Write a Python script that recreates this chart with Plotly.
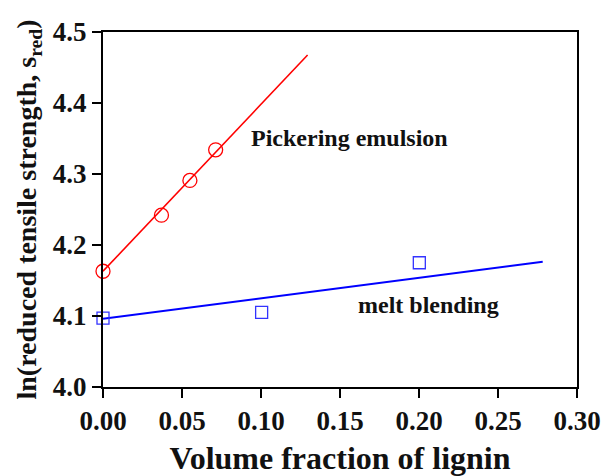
import plotly.graph_objects as go

# Pickering emulsion data
pe_x = [0.0, 0.037, 0.055, 0.0713]
pe_y = [4.163, 4.242, 4.291, 4.334]
pe_fit_x = [0.0, 0.1295]
pe_fit_y = [4.163, 4.4676]

# Melt blending data
mb_x = [0.0, 0.1004, 0.2002]
mb_y = [4.097, 4.105, 4.175]
mb_fit_x = [0.0, 0.2783]
mb_fit_y = [4.096, 4.1765]

x_ticks = [0.00, 0.05, 0.10, 0.15, 0.20, 0.25, 0.30]
y_ticks = [4.0, 4.1, 4.2, 4.3, 4.4, 4.5]

FONT = "Liberation Serif"

fig = go.Figure()
fig.add_trace(go.Scatter(x=pe_fit_x, y=pe_fit_y, mode="lines",
                         line=dict(color="#ff0000", width=1.6), showlegend=False))
fig.add_trace(go.Scatter(x=pe_x, y=pe_y, mode="markers",
                         marker=dict(symbol="circle-open", size=14, color="#ff0000",
                                     line=dict(width=1.3, color="#ff0000")),
                         showlegend=False, cliponaxis=False))
fig.add_trace(go.Scatter(x=mb_fit_x, y=mb_fit_y, mode="lines",
                         line=dict(color="#0000ff", width=2), showlegend=False))
fig.add_trace(go.Scatter(x=mb_x, y=mb_y, mode="markers",
                         marker=dict(symbol="square-open", size=12, color="#3333ff",
                                     line=dict(width=1.3, color="#3333ff")),
                         showlegend=False, cliponaxis=False))

fig.add_annotation(x=0.1563, y=4.351, text="Pickering emulsion", showarrow=False,
                   font=dict(family=FONT, size=24, color="#111", weight="bold"))
fig.add_annotation(x=0.2057, y=4.1155, text="melt blending", showarrow=False,
                   font=dict(family=FONT, size=24, color="#111", weight="bold"))

axis_common = dict(showgrid=False, zeroline=False, showline=True, linecolor="black",
                   linewidth=2, mirror=True, ticks="outside", ticklen=9, tickwidth=2,
                   tickcolor="black", automargin=False, ticklabeloverflow="allow",
                   tickfont=dict(family=FONT, size=27, color="#111", weight="bold"))

fig.update_xaxes(range=[0, 0.30], tickvals=x_ticks,
                 ticktext=[f"{v:.2f}" for v in x_ticks],
                 title=dict(text="Volume fraction of lignin", standoff=18,
                            font=dict(family=FONT, size=32, color="#111", weight="bold")),
                 **axis_common)
fig.update_yaxes(range=[4.0, 4.5], tickvals=y_ticks,
                 ticktext=[f"{v:.1f}" for v in y_ticks],
                 title=dict(text="ln(reduced tensile strength, s<sub>red</sub>)", standoff=8,
                            font=dict(family=FONT, size=28, color="#111", weight="bold")),
                 **axis_common)

fig.update_layout(width=602, height=476, margin=dict(l=103, r=25, t=32, b=89),
                  plot_bgcolor="white", paper_bgcolor="white")

# remove the default 8px page margin so the figure fills the window exactly
fig.write_html("out.html", config={"displayModeBar": False},
               post_script="document.body.style.margin='0';document.body.style.overflow='hidden';")
